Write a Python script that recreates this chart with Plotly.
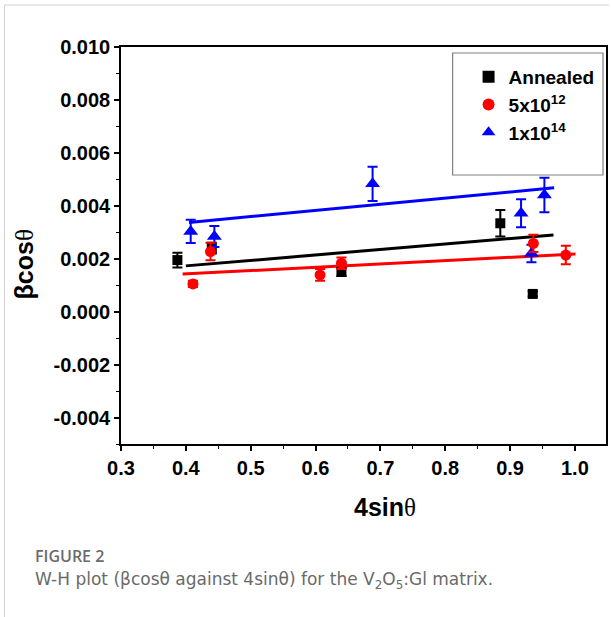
import plotly.graph_objects as go

# ---- data ----
ann_x = [0.387, 0.440, 0.640, 0.885, 0.935]
ann_y = [0.00195, 0.00240, 0.00150, 0.00334, 0.00067]
ann_err = [0.00028, 0.00020, 0.00015, 0.00050, 0.00010]

r12_x = [0.411, 0.438, 0.607, 0.640, 0.936, 0.986]
r12_y = [0.00105, 0.00227, 0.00139, 0.00183, 0.00258, 0.00214]
r12_err = [0.00012, 0.00033, 0.00022, 0.00022, 0.00033, 0.00035]

b14_x = [0.4075, 0.444, 0.688, 0.917, 0.933, 0.953]
b14_y = [0.00303, 0.00284, 0.00483, 0.00372, 0.00220, 0.00441]
b14_err = [0.00044, 0.00040, 0.00065, 0.00053, 0.00033, 0.00065]

# fitted lines (endpoints)
ann_fit_x = [0.400, 0.967]
ann_fit_y = [0.00173, 0.00290]
r12_fit_x = [0.395, 1.001]
r12_fit_y = [0.00142, 0.00218]
b14_fit_x = [0.405, 0.968]
b14_fit_y = [0.00337, 0.00468]

x_ticks = [0.3, 0.4, 0.5, 0.6, 0.7, 0.8, 0.9, 1.0]
x_ticklabels = ["0.3", "0.4", "0.5", "0.6", "0.7", "0.8", "0.9", "1.0"]
y_ticks = [-0.004, -0.002, 0.0, 0.002, 0.004, 0.006, 0.008, 0.010]
y_ticklabels = ["-0.004", "-0.002", "0.000", "0.002", "0.004", "0.006", "0.008", "0.010"]

FONT = "Liberation Sans"
SERIF = "Liberation Serif"

# plot-area geometry (px) used to place paper-referenced text
L, R, T, B = 121, 3, 47, 173
W, H = 611, 617
PW, PH = W - L - R, H - T - B

def px(xp):
    return (xp - L) / PW

def py(yp):
    return (H - B - yp) / PH

fig = go.Figure()

def err(arr, color):
    return dict(type="data", array=arr, visible=True, color=color, thickness=2, width=5)

# fit lines
fig.add_trace(go.Scatter(x=ann_fit_x, y=ann_fit_y, mode="lines",
                         line=dict(color="black", width=3), showlegend=False))
fig.add_trace(go.Scatter(x=b14_fit_x, y=b14_fit_y, mode="lines",
                         line=dict(color="#0000ff", width=3), showlegend=False))
fig.add_trace(go.Scatter(x=r12_fit_x, y=r12_fit_y, mode="lines",
                         line=dict(color="#ff0000", width=3), showlegend=False))

# data points
fig.add_trace(go.Scatter(x=ann_x, y=ann_y, mode="markers", name="Annealed",
                         marker=dict(symbol="square", size=10, color="black"),
                         error_y=err(ann_err, "black"), legendrank=1))
fig.add_trace(go.Scatter(x=b14_x, y=b14_y, mode="markers", name="1x10<sup>14</sup>",
                         marker=dict(symbol="triangle-up", size=13, color="#0000ff"),
                         error_y=err(b14_err, "#0000ff"), legendrank=3))
fig.add_trace(go.Scatter(x=r12_x, y=r12_y, mode="markers", name="5x10<sup>12</sup>",
                         marker=dict(symbol="circle", size=11, color="#ff0000"),
                         error_y=err(r12_err, "#ff0000"), legendrank=2))

axis_common = dict(
    showgrid=False, zeroline=False, showline=True, linecolor="black", linewidth=1.5,
    mirror=True, ticks="outside", ticklen=5, tickwidth=1.5, tickcolor="black",
    tickfont=dict(family=FONT, size=20, color="black", weight="bold"),
)

fig.update_xaxes(range=[0.3, 1.048], tickvals=x_ticks, ticktext=x_ticklabels,
                 minor=dict(ticks="outside", ticklen=3, tickwidth=1.2, tickcolor="black", dtick=0.05),
                 **axis_common)
fig.update_yaxes(range=[-0.005, 0.010], tickvals=y_ticks, ticktext=y_ticklabels,
                 minor=dict(ticks="outside", ticklen=3, tickwidth=1.2, tickcolor="black", dtick=0.001,
                            tick0=0),
                 **axis_common)

theta = "<span style='font-family:" + SERIF + ";font-weight:normal'>θ</span>"

fig.update_layout(
    width=W, height=H,
    margin=dict(l=L, r=R, t=T, b=B),
    paper_bgcolor="white", plot_bgcolor="white",
    showlegend=True,
    legend=dict(x=px(470), y=py(58), xanchor="left", yanchor="top",
                bgcolor="rgba(0,0,0,0)", borderwidth=0,
                font=dict(family=FONT, size=19, color="black", weight="bold"),
                itemsizing="constant"),
    shapes=[
        dict(type="rect", xref="paper", yref="paper", x0=px(454), x1=px(605), y0=py(175), y1=py(53),
             line=dict(color="#808080", width=1.2), fillcolor="rgba(0,0,0,0)"),
        # page frame
        dict(type="line", xref="paper", yref="paper", x0=px(4), x1=px(611),
             y0=py(5), y1=py(5), line=dict(color="#d0d0d0", width=1)),
        dict(type="line", xref="paper", yref="paper", x0=px(4), x1=px(4),
             y0=py(5), y1=py(617), line=dict(color="#d0d0d0", width=1)),
    ],
    annotations=[
        dict(text="4sin" + theta, xref="paper", yref="paper", x=px(386), y=py(507),
             xanchor="center", yanchor="middle", showarrow=False,
             font=dict(family=FONT, size=25, color="black", weight="bold")),
        dict(text="βcos" + theta, xref="paper", yref="paper", x=px(24), y=py(264),
             xanchor="center", yanchor="middle", showarrow=False, textangle=-90,
             font=dict(family=FONT, size=25, color="black", weight="bold")),
        dict(text="FIGURE 2", xref="paper", yref="paper", x=px(33), y=py(556),
             xanchor="left", yanchor="middle", showarrow=False,
             font=dict(family="Open Sans", size=16, color="#6b6b6b", weight=600)),
        dict(text="W-H plot (βcosθ against 4sinθ) for the V<sub>2</sub>O<sub>5</sub>:Gl matrix.",
             xref="paper", yref="paper", x=px(33), y=py(580),
             xanchor="left", yanchor="middle", showarrow=False,
             font=dict(family="DejaVu Sans", size=17, color="#6a6a6a")),
    ],
)

fig.write_html("out.html")
